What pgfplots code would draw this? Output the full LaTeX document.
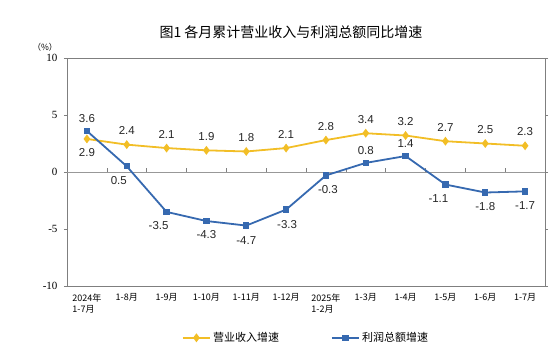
\documentclass[border=0pt]{standalone}
\usepackage{pgfplots}
\pgfplotsset{compat=1.18}
\usepackage{pgfplotstable}
\usepackage{fontspec}
\setmainfont{Liberation Serif}
\newfontfamily\cjk{Noto Sans CJK SC}
\newfontfamily\arial{Liberation Sans}
\definecolor{ygold}{HTML}{F2BE26}
\definecolor{bblue}{HTML}{3669B0}
\definecolor{axgray}{HTML}{7F7F7F}

\pgfplotstableread{
x y lab dx dy
0 2.9 2.9 0 -14
1 2.4 2.4 0 14
2 2.1 2.1 0 14
3 1.9 1.9 0 14
4 1.8 1.8 0 14
5 2.1 2.1 0 14
6 2.8 2.8 0 14
7 3.4 3.4 0 14
8 3.2 3.2 0 14
9 2.7 2.7 0 14
10 2.5 2.5 0 14
11 2.3 2.3 0 14
}\revenue

\pgfplotstableread{
x y lab dx dy
0 3.6 3.6 0 12
1 0.5 0.5 -8 -14
2 -3.5 -3.5 -8 -14
3 -4.3 -4.3 0 -14
4 -4.7 -4.7 0 -15
5 -3.3 -3.3 1 -15
6 -0.3 -0.3 2 -14
7 0.8 0.8 0 12
8 1.4 1.4 0 12
9 -1.1 -1.1 -7 -14
10 -1.8 -1.8 0 -14
11 -1.7 -1.7 0 -14
}\profit

\begin{document}
\begin{tikzpicture}
\useasboundingbox (0pt,0pt) rectangle (552pt,359pt);
\node[font=\cjk\fontsize{14}{16}\selectfont] at (291pt,327pt) {图1\ 各月累计营业收入与利润总额同比增速};
\node[font=\cjk\fontsize{8.5}{10}\selectfont] at (45pt,312pt) {（\%）};
\begin{axis}[
  at={(67pt,73pt)}, anchor=south west,
  scale only axis, width=478pt, height=228pt,
  xmin=-0.5, xmax=11.5, ymin=-10, ymax=10,
  ytick={-10,-5,0,5,10},
  yticklabels={-10,-5,0,5,10},
  xtick={0,...,11},
  xticklabels={{2024年\\1-7月},1-8月,1-9月,1-10月,1-11月,1-12月,{2025年\\1-2月},1-3月,1-4月,1-5月,1-6月,1-7月},
  x tick label style={font=\cjk\fontsize{9}{11}\selectfont, align=left, anchor=north, yshift=-1pt},
  y tick label style={font=\fontsize{11}{13}\selectfont, xshift=-3pt},
  major x tick style={draw=none},
  y tick style={axgray},
  tick align=outside,
  major tick length=3pt,
  axis line style={axgray, line width=0.7pt},
  clip=false,
  legend style={at={(0.5,-0.185)}, anchor=north, draw=none, legend columns=2,
    font=\cjk\fontsize{11}{13}\selectfont,
    /tikz/every even column/.append style={column sep=50pt}},
  legend image code/.code={
    \draw[mark repeat=2,mark phase=2,#1] plot coordinates {(0cm,0cm) (0.48cm,0cm) (0.96cm,0cm)};
  },
  nodes near coords,
  point meta=explicit symbolic,
  visualization depends on={\thisrow{dx}\as\dx},
  visualization depends on={\thisrow{dy}\as\dy},
  nodes near coords style={font=\arial\fontsize{11.5}{13}\selectfont, text=black!85, anchor=center, xshift=\dx*1pt, yshift=\dy*1pt},
]
\draw[axgray!80, line width=0.9pt] (axis cs:-0.5,0) -- (axis cs:11.5,0);
\pgfplotsinvokeforeach{0.5,1.5,...,10.5}{\draw[axgray, line width=0.6pt] (axis cs:#1,0) -- ([yshift=3.5pt]axis cs:#1,0);}
\addplot[ygold, line width=1.8pt, mark=diamond*, mark size=3pt, mark options={ygold}] table[x=x,y=y,meta=lab] {\revenue};
\addlegendentry{营业收入增速}
\addplot[bblue, line width=1.8pt, mark=square*, mark size=2.3pt, mark options={bblue}] table[x=x,y=y,meta=lab] {\profit};
\addlegendentry{利润总额增速}
\end{axis}
\end{tikzpicture}
\end{document}
